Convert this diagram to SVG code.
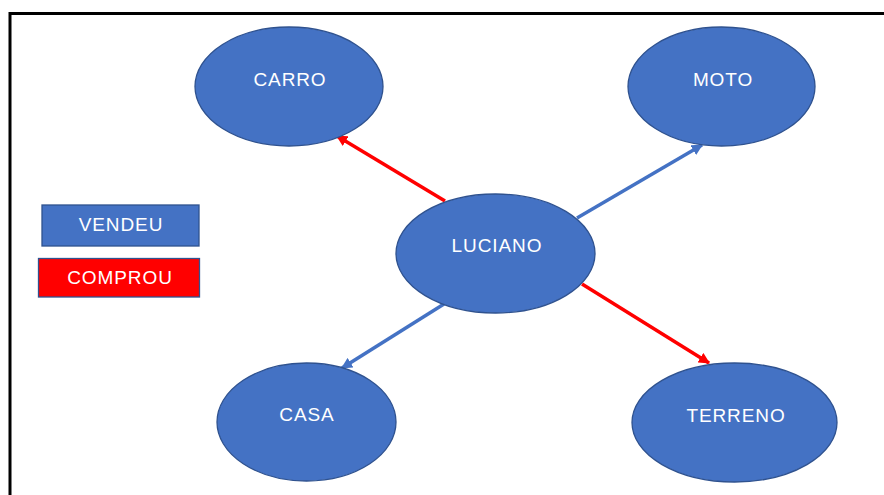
<svg xmlns="http://www.w3.org/2000/svg" width="884" height="495" viewBox="0 0 884 495">
<style>
.node ellipse{fill:#4472C4;stroke:#2F528F;stroke-width:1.3}
.lbl{font-family:"Liberation Sans",Arial,sans-serif;font-size:19px;letter-spacing:0.9px;fill:#fff;text-anchor:middle}
.blue{stroke:#4472C4;stroke-width:3.5;fill:none}
.red{stroke:#FF0000;stroke-width:3.5;fill:none}
</style>
<defs>
<marker id="ab" viewBox="0 0 10 10" refX="9" refY="5" markerWidth="3.2" markerHeight="3.2" orient="auto" markerUnits="strokeWidth"><path d="M0,0L10,5L0,10z" fill="#4472C4"/></marker>
<marker id="ar" viewBox="0 0 10 10" refX="9" refY="5" markerWidth="3.2" markerHeight="3.2" orient="auto" markerUnits="strokeWidth"><path d="M0,0L10,5L0,10z" fill="#FF0000"/></marker>
</defs>
<rect width="884" height="495" fill="#fff"/>
<path d="M10,495V13.5H884" fill="none" stroke="#000" stroke-width="3"/>
<g id="connectors">
<line class="red" x1="445" y1="201" x2="337" y2="136" marker-end="url(#ar)"/>
<line class="blue" x1="577" y1="218" x2="702" y2="145" marker-end="url(#ab)"/>
<line class="blue" x1="444" y1="304" x2="342" y2="368" marker-end="url(#ab)"/>
<line class="red" x1="582" y1="284" x2="709" y2="363" marker-end="url(#ar)"/>
</g>
<g id="carro" class="node"><ellipse cx="289" cy="86.5" rx="94" ry="59.5"/><text class="lbl" x="290" y="86">CARRO</text></g>
<g id="moto" class="node"><ellipse cx="721.5" cy="86.5" rx="93.5" ry="59.5"/><text class="lbl" x="723" y="86">MOTO</text></g>
<g id="luciano" class="node"><ellipse cx="495.5" cy="253.5" rx="99.5" ry="59.5"/><text class="lbl" x="497" y="252">LUCIANO</text></g>
<g id="casa" class="node"><ellipse cx="306.5" cy="422" rx="89.5" ry="59"/><text class="lbl" x="307" y="421">CASA</text></g>
<g id="terreno" class="node"><ellipse cx="734.5" cy="422.5" rx="102.5" ry="59.5"/><text class="lbl" x="736" y="422">TERRENO</text></g>
<g id="legend-vendeu"><rect x="42" y="205" width="157" height="41" fill="#4472C4" stroke="#2F528F" stroke-width="1.3"/><text class="lbl" x="121" y="231">VENDEU</text></g>
<g id="legend-comprou"><rect x="38.5" y="258.5" width="161" height="38.5" fill="#FF0000" stroke="#2F528F" stroke-width="1.3"/><text class="lbl" x="120" y="284">COMPROU</text></g>
</svg>
